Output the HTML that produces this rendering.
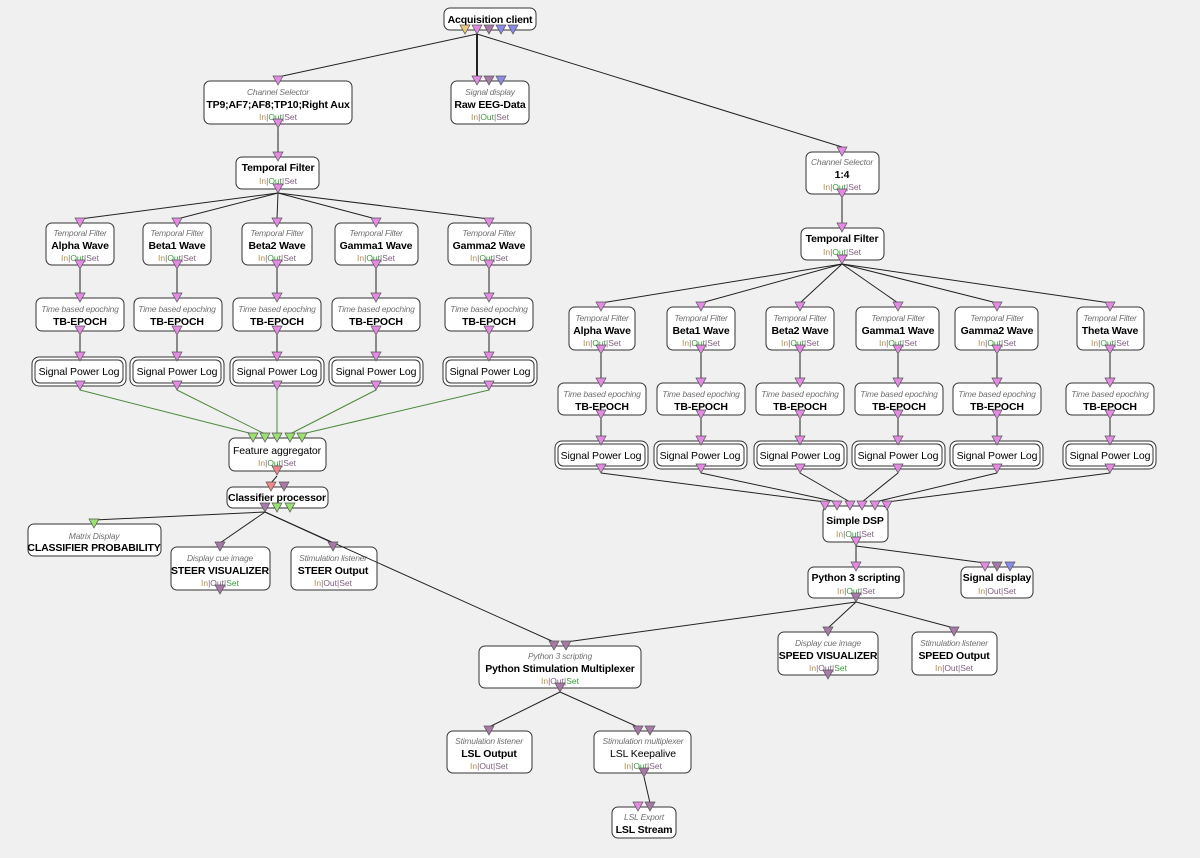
<!DOCTYPE html>
<html><head><meta charset="utf-8"><style>
html,body{margin:0;padding:0;background:#f0f0f0}
svg{display:block}
text{font-family:"Liberation Sans",Arial,sans-serif;text-anchor:middle}
.b{font-size:10.5px;font-weight:bold;fill:#000;letter-spacing:-0.15px}
.n{font-size:10.5px;fill:#000;letter-spacing:-0.1px}
.i{font-size:8.5px;font-style:italic;fill:#707070;letter-spacing:-0.2px}
.s{font-size:8.5px;fill:#806080}
.g{fill:#3a9a3a}
.o{fill:#b09050}
.bx{fill:#fff;stroke:#333;stroke-width:1}
.l{stroke:#222;stroke-width:1;fill:none}
.lg{stroke:#4a8a3a;stroke-width:1;fill:none}
.pk{fill:#e48ae4;stroke:#555;stroke-width:.7}
.pu{fill:#a878a8;stroke:#555;stroke-width:.7}
.bl{fill:#8a8ae8;stroke:#555;stroke-width:.7}
.ye{fill:#e8c878;stroke:#555;stroke-width:.7}
.gr{fill:#98e070;stroke:#555;stroke-width:.7}
.rd{fill:#f08888;stroke:#555;stroke-width:.7}
</style></head><body>
<svg width="1200" height="858" viewBox="0 0 1200 858" xmlns="http://www.w3.org/2000/svg">
<defs>
<path id="t" d="M-5,-5 L5,-5 L0,4 Z"/>
</defs>

<!-- ===== EDGES ===== -->
<g class="l">
<line x1="477" y1="34" x2="278" y2="77"/>
<line x1="477" y1="34" x2="477" y2="77" stroke-width="2"/>
<line x1="477" y1="34" x2="842" y2="147"/>
<line x1="278" y1="128" x2="278" y2="153"/>
<line x1="278" y1="193" x2="80" y2="219"/>
<line x1="278" y1="193" x2="177" y2="219"/>
<line x1="278" y1="193" x2="277" y2="219"/>
<line x1="278" y1="193" x2="376" y2="219"/>
<line x1="278" y1="193" x2="489" y2="219"/>
<line x1="80" y1="268" x2="80" y2="294"/><line x1="80" y1="335" x2="80" y2="353"/>
<line x1="177" y1="268" x2="177" y2="294"/><line x1="177" y1="335" x2="177" y2="353"/>
<line x1="277" y1="268" x2="277" y2="294"/><line x1="277" y1="335" x2="277" y2="353"/>
<line x1="376" y1="268" x2="376" y2="294"/><line x1="376" y1="335" x2="376" y2="353"/>
<line x1="489" y1="268" x2="489" y2="294"/><line x1="489" y1="335" x2="489" y2="353"/>
<line x1="277" y1="476" x2="271" y2="483"/>
<line x1="265" y1="512" x2="94" y2="520"/>
<line x1="265" y1="512" x2="220" y2="543"/>
<line x1="265" y1="512" x2="333" y2="543"/>
<line x1="842" y1="198" x2="842" y2="224"/>
<line x1="842" y1="264" x2="601" y2="303"/>
<line x1="842" y1="264" x2="701" y2="303"/>
<line x1="842" y1="264" x2="800" y2="303"/>
<line x1="842" y1="264" x2="898" y2="303"/>
<line x1="842" y1="264" x2="997" y2="303"/>
<line x1="842" y1="264" x2="1110" y2="303"/>
<line x1="601" y1="354" x2="601" y2="379"/><line x1="601" y1="419" x2="601" y2="437"/>
<line x1="701" y1="354" x2="701" y2="379"/><line x1="701" y1="419" x2="701" y2="437"/>
<line x1="800" y1="354" x2="800" y2="379"/><line x1="800" y1="419" x2="800" y2="437"/>
<line x1="898" y1="354" x2="898" y2="379"/><line x1="898" y1="419" x2="898" y2="437"/>
<line x1="997" y1="354" x2="997" y2="379"/><line x1="997" y1="419" x2="997" y2="437"/>
<line x1="1110" y1="354" x2="1110" y2="379"/><line x1="1110" y1="419" x2="1110" y2="437"/>
<line x1="601" y1="473" x2="825" y2="502"/>
<line x1="701" y1="473" x2="837" y2="502"/>
<line x1="800" y1="473" x2="850" y2="502"/>
<line x1="898" y1="473" x2="862" y2="502"/>
<line x1="997" y1="473" x2="875" y2="502"/>
<line x1="1110" y1="473" x2="887" y2="502"/>
<line x1="856" y1="546" x2="856" y2="563"/>
<line x1="856" y1="546" x2="985" y2="563"/>
<line x1="856" y1="602" x2="566" y2="642"/>
<line x1="856" y1="602" x2="828" y2="628"/>
<line x1="856" y1="602" x2="954" y2="628"/>
<line x1="560" y1="692" x2="489" y2="727"/>
<line x1="560" y1="692" x2="638" y2="727"/>
<line x1="644" y1="777" x2="650" y2="803"/>
</g>
<g class="lg">
<line x1="80" y1="390" x2="253" y2="434"/>
<line x1="177" y1="390" x2="265" y2="434"/>
<line x1="277" y1="390" x2="277" y2="434"/>
<line x1="376" y1="390" x2="290" y2="434"/>
<line x1="489" y1="390" x2="302" y2="434"/>
</g>

<!-- ===== NODES ===== -->
<rect class="bx" x="444" y="8" width="92" height="22" rx="6"/>
<text class="b" x="490" y="23">Acquisition client</text>

<rect class="bx" x="204" y="81" width="148" height="43" rx="6"/>
<text class="i" x="278" y="95">Channel Selector</text>
<text class="b" x="278" y="108">TP9;AF7;AF8;TP10;Right Aux</text>
<text class="s" x="278" y="120"><tspan class="o">In</tspan>|<tspan class="g">Out</tspan>|Set</text>

<rect class="bx" x="451" y="81" width="78" height="43" rx="6"/>
<text class="i" x="490" y="95">Signal display</text>
<text class="b" x="490" y="108">Raw EEG-Data</text>
<text class="s" x="490" y="120"><tspan class="o">In</tspan>|<tspan class="g">Out</tspan>|Set</text>

<rect class="bx" x="236" y="157" width="83" height="32" rx="6"/>
<text class="b" x="278" y="171">Temporal Filter</text>
<text class="s" x="278" y="184"><tspan class="o">In</tspan>|<tspan class="g">Out</tspan>|Set</text>

<rect class="bx" x="46" y="223" width="68" height="42" rx="6"/>
<text class="i" x="80" y="236">Temporal Filter</text><text class="b" x="80" y="249">Alpha Wave</text>
<text class="s" x="80" y="261"><tspan class="o">In</tspan>|<tspan class="g">Out</tspan>|Set</text>
<rect class="bx" x="143" y="223" width="68" height="42" rx="6"/>
<text class="i" x="177" y="236">Temporal Filter</text><text class="b" x="177" y="249">Beta1 Wave</text>
<text class="s" x="177" y="261"><tspan class="o">In</tspan>|<tspan class="g">Out</tspan>|Set</text>
<rect class="bx" x="242" y="223" width="70" height="42" rx="6"/>
<text class="i" x="277" y="236">Temporal Filter</text><text class="b" x="277" y="249">Beta2 Wave</text>
<text class="s" x="277" y="261"><tspan class="o">In</tspan>|<tspan class="g">Out</tspan>|Set</text>
<rect class="bx" x="335" y="223" width="83" height="42" rx="6"/>
<text class="i" x="376" y="236">Temporal Filter</text><text class="b" x="376" y="249">Gamma1 Wave</text>
<text class="s" x="376" y="261"><tspan class="o">In</tspan>|<tspan class="g">Out</tspan>|Set</text>
<rect class="bx" x="448" y="223" width="83" height="42" rx="6"/>
<text class="i" x="489" y="236">Temporal Filter</text><text class="b" x="489" y="249">Gamma2 Wave</text>
<text class="s" x="489" y="261"><tspan class="o">In</tspan>|<tspan class="g">Out</tspan>|Set</text>

<g>
<rect class="bx" x="36" y="298" width="88" height="33" rx="6"/>
<text class="i" x="80" y="312">Time based epoching</text><text class="b" x="80" y="325">TB-EPOCH</text>
<rect class="bx" x="134" y="298" width="88" height="33" rx="6"/>
<text class="i" x="177" y="312">Time based epoching</text><text class="b" x="177" y="325">TB-EPOCH</text>
<rect class="bx" x="233" y="298" width="88" height="33" rx="6"/>
<text class="i" x="277" y="312">Time based epoching</text><text class="b" x="277" y="325">TB-EPOCH</text>
<rect class="bx" x="332" y="298" width="88" height="33" rx="6"/>
<text class="i" x="376" y="312">Time based epoching</text><text class="b" x="376" y="325">TB-EPOCH</text>
<rect class="bx" x="445" y="298" width="88" height="33" rx="6"/>
<text class="i" x="489" y="312">Time based epoching</text><text class="b" x="489" y="325">TB-EPOCH</text>
</g>

<g>
<rect class="bx" x="32" y="357" width="94" height="29" rx="7"/><rect class="bx" x="35" y="360" width="88" height="23" rx="5"/>
<text class="n" x="79" y="375">Signal Power Log</text>
<rect class="bx" x="130" y="357" width="94" height="29" rx="7"/><rect class="bx" x="133" y="360" width="88" height="23" rx="5"/>
<text class="n" x="177" y="375">Signal Power Log</text>
<rect class="bx" x="230" y="357" width="94" height="29" rx="7"/><rect class="bx" x="233" y="360" width="88" height="23" rx="5"/>
<text class="n" x="277" y="375">Signal Power Log</text>
<rect class="bx" x="329" y="357" width="94" height="29" rx="7"/><rect class="bx" x="332" y="360" width="88" height="23" rx="5"/>
<text class="n" x="376" y="375">Signal Power Log</text>
<rect class="bx" x="443" y="357" width="94" height="29" rx="7"/><rect class="bx" x="446" y="360" width="88" height="23" rx="5"/>
<text class="n" x="490" y="375">Signal Power Log</text>
</g>

<rect class="bx" x="229" y="438" width="97" height="33" rx="6"/>
<text class="n" x="277" y="454">Feature aggregator</text>
<text class="s" x="277" y="466"><tspan class="o">In</tspan>|<tspan class="g">Out</tspan>|Set</text>

<rect class="bx" x="227" y="487" width="101" height="21" rx="6"/>
<text class="b" x="277" y="501">Classifier processor</text>

<rect class="bx" x="28" y="524" width="133" height="32" rx="6"/>
<text class="i" x="94" y="539">Matrix Display</text>
<text class="b" x="94" y="551">CLASSIFIER PROBABILITY</text>

<rect class="bx" x="171" y="547" width="99" height="43" rx="6"/>
<text class="i" x="220" y="561">Display cue image</text>
<text class="b" x="220" y="574">STEER VISUALIZER</text>
<text class="s" x="220" y="586"><tspan class="o">In</tspan>|Out|<tspan class="g">Set</tspan></text>

<rect class="bx" x="291" y="547" width="86" height="43" rx="6"/>
<text class="i" x="333" y="561">Stimulation listener</text>
<text class="b" x="333" y="574">STEER Output</text>
<text class="s" x="333" y="586"><tspan class="o">In</tspan>|Out|Set</text>

<!-- overlay line CP -> PSM crossing STEER Output -->
<line class="l" x1="265" y1="512" x2="554" y2="642"/>

<rect class="bx" x="806" y="152" width="73" height="42" rx="6"/>
<text class="i" x="842" y="165">Channel Selector</text>
<text class="b" x="842" y="178">1:4</text>
<text class="s" x="842" y="190"><tspan class="o">In</tspan>|<tspan class="g">Out</tspan>|Set</text>

<rect class="bx" x="801" y="228" width="83" height="32" rx="6"/>
<text class="b" x="842" y="242">Temporal Filter</text>
<text class="s" x="842" y="255"><tspan class="o">In</tspan>|<tspan class="g">Out</tspan>|Set</text>

<rect class="bx" x="569" y="307" width="66" height="43" rx="6"/>
<text class="i" x="602" y="321">Temporal Filter</text><text class="b" x="602" y="334">Alpha Wave</text>
<text class="s" x="602" y="346"><tspan class="o">In</tspan>|<tspan class="g">Out</tspan>|Set</text>
<rect class="bx" x="667" y="307" width="68" height="43" rx="6"/>
<text class="i" x="701" y="321">Temporal Filter</text><text class="b" x="701" y="334">Beta1 Wave</text>
<text class="s" x="701" y="346"><tspan class="o">In</tspan>|<tspan class="g">Out</tspan>|Set</text>
<rect class="bx" x="766" y="307" width="68" height="43" rx="6"/>
<text class="i" x="800" y="321">Temporal Filter</text><text class="b" x="800" y="334">Beta2 Wave</text>
<text class="s" x="800" y="346"><tspan class="o">In</tspan>|<tspan class="g">Out</tspan>|Set</text>
<rect class="bx" x="856" y="307" width="83" height="43" rx="6"/>
<text class="i" x="898" y="321">Temporal Filter</text><text class="b" x="898" y="334">Gamma1 Wave</text>
<text class="s" x="898" y="346"><tspan class="o">In</tspan>|<tspan class="g">Out</tspan>|Set</text>
<rect class="bx" x="955" y="307" width="83" height="43" rx="6"/>
<text class="i" x="997" y="321">Temporal Filter</text><text class="b" x="997" y="334">Gamma2 Wave</text>
<text class="s" x="997" y="346"><tspan class="o">In</tspan>|<tspan class="g">Out</tspan>|Set</text>
<rect class="bx" x="1077" y="307" width="67" height="43" rx="6"/>
<text class="i" x="1110" y="321">Temporal Filter</text><text class="b" x="1110" y="334">Theta Wave</text>
<text class="s" x="1110" y="346"><tspan class="o">In</tspan>|<tspan class="g">Out</tspan>|Set</text>

<rect class="bx" x="558" y="383" width="88" height="32" rx="6"/>
<text class="i" x="602" y="397">Time based epoching</text><text class="b" x="602" y="410">TB-EPOCH</text>
<rect class="bx" x="657" y="383" width="88" height="32" rx="6"/>
<text class="i" x="701" y="397">Time based epoching</text><text class="b" x="701" y="410">TB-EPOCH</text>
<rect class="bx" x="756" y="383" width="88" height="32" rx="6"/>
<text class="i" x="800" y="397">Time based epoching</text><text class="b" x="800" y="410">TB-EPOCH</text>
<rect class="bx" x="855" y="383" width="88" height="32" rx="6"/>
<text class="i" x="899" y="397">Time based epoching</text><text class="b" x="899" y="410">TB-EPOCH</text>
<rect class="bx" x="953" y="383" width="88" height="32" rx="6"/>
<text class="i" x="997" y="397">Time based epoching</text><text class="b" x="997" y="410">TB-EPOCH</text>
<rect class="bx" x="1066" y="383" width="88" height="32" rx="6"/>
<text class="i" x="1110" y="397">Time based epoching</text><text class="b" x="1110" y="410">TB-EPOCH</text>

<rect class="bx" x="555" y="441" width="93" height="28" rx="7"/><rect class="bx" x="558" y="444" width="87" height="22" rx="5"/>
<text class="n" x="601" y="459">Signal Power Log</text>
<rect class="bx" x="654" y="441" width="93" height="28" rx="7"/><rect class="bx" x="657" y="444" width="87" height="22" rx="5"/>
<text class="n" x="700" y="459">Signal Power Log</text>
<rect class="bx" x="754" y="441" width="93" height="28" rx="7"/><rect class="bx" x="757" y="444" width="87" height="22" rx="5"/>
<text class="n" x="800" y="459">Signal Power Log</text>
<rect class="bx" x="852" y="441" width="93" height="28" rx="7"/><rect class="bx" x="855" y="444" width="87" height="22" rx="5"/>
<text class="n" x="898" y="459">Signal Power Log</text>
<rect class="bx" x="950" y="441" width="93" height="28" rx="7"/><rect class="bx" x="953" y="444" width="87" height="22" rx="5"/>
<text class="n" x="997" y="459">Signal Power Log</text>
<rect class="bx" x="1063" y="441" width="93" height="28" rx="7"/><rect class="bx" x="1066" y="444" width="87" height="22" rx="5"/>
<text class="n" x="1110" y="459">Signal Power Log</text>

<rect class="bx" x="823" y="506" width="65" height="36" rx="6"/>
<text class="b" x="855" y="524">Simple DSP</text>
<text class="s" x="855" y="537"><tspan class="o">In</tspan>|<tspan class="g">Out</tspan>|Set</text>

<rect class="bx" x="808" y="567" width="96" height="31" rx="6"/>
<text class="b" x="856" y="581">Python 3 scripting</text>
<text class="s" x="856" y="594"><tspan class="o">In</tspan>|<tspan class="g">Out</tspan>|Set</text>

<rect class="bx" x="961" y="567" width="72" height="31" rx="6"/>
<text class="b" x="997" y="581">Signal display</text>
<text class="s" x="997" y="594"><tspan class="o">In</tspan>|Out|Set</text>

<rect class="bx" x="778" y="632" width="100" height="43" rx="6"/>
<text class="i" x="828" y="646">Display cue image</text>
<text class="b" x="828" y="659">SPEED VISUALIZER</text>
<text class="s" x="828" y="671"><tspan class="o">In</tspan>|Out|<tspan class="g">Set</tspan></text>

<rect class="bx" x="912" y="632" width="85" height="43" rx="6"/>
<text class="i" x="954" y="646">Stimulation listener</text>
<text class="b" x="954" y="659">SPEED Output</text>
<text class="s" x="954" y="671"><tspan class="o">In</tspan>|Out|Set</text>

<rect class="bx" x="479" y="646" width="162" height="42" rx="6"/>
<text class="i" x="560" y="659">Python 3 scripting</text>
<text class="b" x="560" y="672">Python Stimulation Multiplexer</text>
<text class="s" x="560" y="684"><tspan class="o">In</tspan>|Out|<tspan class="g">Set</tspan></text>

<rect class="bx" x="447" y="731" width="85" height="42" rx="6"/>
<text class="i" x="489" y="744">Stimulation listener</text>
<text class="b" x="489" y="757">LSL Output</text>
<text class="s" x="489" y="769"><tspan class="o">In</tspan>|Out|Set</text>

<rect class="bx" x="594" y="731" width="97" height="42" rx="6"/>
<text class="i" x="643" y="744">Stimulation multiplexer</text>
<text class="n" x="643" y="757">LSL Keepalive</text>
<text class="s" x="643" y="769"><tspan class="o">In</tspan>|<tspan class="g">Out</tspan>|Set</text>

<rect class="bx" x="612" y="807" width="64" height="31" rx="6"/>
<text class="i" x="644" y="820">LSL Export</text>
<text class="b" x="644" y="833">LSL Stream</text>

<!-- ===== PORTS ===== -->
<use href="#t" class="ye" x="465" y="30"/><use href="#t" class="pk" x="477" y="30"/><use href="#t" class="pu" x="489" y="30"/><use href="#t" class="bl" x="501" y="30"/><use href="#t" class="bl" x="513" y="30"/>
<use href="#t" class="pk" x="278" y="81"/><use href="#t" class="pk" x="278" y="124"/>
<use href="#t" class="pk" x="477" y="81"/><use href="#t" class="pu" x="489" y="81"/><use href="#t" class="bl" x="501" y="81"/>
<use href="#t" class="pk" x="278" y="157"/><use href="#t" class="pk" x="278" y="189"/>
<g>
<use href="#t" class="pk" x="80" y="223"/><use href="#t" class="pk" x="80" y="265"/><use href="#t" class="pk" x="80" y="298"/><use href="#t" class="pk" x="80" y="331"/><use href="#t" class="pk" x="80" y="357"/><use href="#t" class="pk" x="80" y="386"/>
<use href="#t" class="pk" x="177" y="223"/><use href="#t" class="pk" x="177" y="265"/><use href="#t" class="pk" x="177" y="298"/><use href="#t" class="pk" x="177" y="331"/><use href="#t" class="pk" x="177" y="357"/><use href="#t" class="pk" x="177" y="386"/>
<use href="#t" class="pk" x="277" y="223"/><use href="#t" class="pk" x="277" y="265"/><use href="#t" class="pk" x="277" y="298"/><use href="#t" class="pk" x="277" y="331"/><use href="#t" class="pk" x="277" y="357"/><use href="#t" class="pk" x="277" y="386"/>
<use href="#t" class="pk" x="376" y="223"/><use href="#t" class="pk" x="376" y="265"/><use href="#t" class="pk" x="376" y="298"/><use href="#t" class="pk" x="376" y="331"/><use href="#t" class="pk" x="376" y="357"/><use href="#t" class="pk" x="376" y="386"/>
<use href="#t" class="pk" x="489" y="223"/><use href="#t" class="pk" x="489" y="265"/><use href="#t" class="pk" x="489" y="298"/><use href="#t" class="pk" x="489" y="331"/><use href="#t" class="pk" x="489" y="357"/><use href="#t" class="pk" x="489" y="386"/>
</g>
<use href="#t" class="gr" x="253" y="438"/><use href="#t" class="gr" x="265" y="438"/><use href="#t" class="gr" x="277" y="438"/><use href="#t" class="gr" x="290" y="438"/><use href="#t" class="gr" x="302" y="438"/>
<use href="#t" class="rd" x="277" y="471"/>
<use href="#t" class="rd" x="271" y="487"/><use href="#t" class="pu" x="284" y="487"/>
<use href="#t" class="pu" x="265" y="508"/><use href="#t" class="gr" x="277" y="508"/><use href="#t" class="gr" x="290" y="508"/>
<use href="#t" class="gr" x="94" y="524"/>
<use href="#t" class="pu" x="220" y="547"/><use href="#t" class="pu" x="220" y="590"/>
<use href="#t" class="pu" x="333" y="547"/>
<use href="#t" class="pk" x="842" y="152"/><use href="#t" class="pk" x="842" y="194"/>
<use href="#t" class="pk" x="842" y="228"/><use href="#t" class="pk" x="842" y="260"/>
<g>
<use href="#t" class="pk" x="601" y="307"/><use href="#t" class="pk" x="601" y="350"/><use href="#t" class="pk" x="601" y="383"/><use href="#t" class="pk" x="601" y="415"/><use href="#t" class="pk" x="601" y="441"/><use href="#t" class="pk" x="601" y="469"/>
<use href="#t" class="pk" x="701" y="307"/><use href="#t" class="pk" x="701" y="350"/><use href="#t" class="pk" x="701" y="383"/><use href="#t" class="pk" x="701" y="415"/><use href="#t" class="pk" x="701" y="441"/><use href="#t" class="pk" x="701" y="469"/>
<use href="#t" class="pk" x="800" y="307"/><use href="#t" class="pk" x="800" y="350"/><use href="#t" class="pk" x="800" y="383"/><use href="#t" class="pk" x="800" y="415"/><use href="#t" class="pk" x="800" y="441"/><use href="#t" class="pk" x="800" y="469"/>
<use href="#t" class="pk" x="898" y="307"/><use href="#t" class="pk" x="898" y="350"/><use href="#t" class="pk" x="898" y="383"/><use href="#t" class="pk" x="898" y="415"/><use href="#t" class="pk" x="898" y="441"/><use href="#t" class="pk" x="898" y="469"/>
<use href="#t" class="pk" x="997" y="307"/><use href="#t" class="pk" x="997" y="350"/><use href="#t" class="pk" x="997" y="383"/><use href="#t" class="pk" x="997" y="415"/><use href="#t" class="pk" x="997" y="441"/><use href="#t" class="pk" x="997" y="469"/>
<use href="#t" class="pk" x="1110" y="307"/><use href="#t" class="pk" x="1110" y="350"/><use href="#t" class="pk" x="1110" y="383"/><use href="#t" class="pk" x="1110" y="415"/><use href="#t" class="pk" x="1110" y="441"/><use href="#t" class="pk" x="1110" y="469"/>
</g>
<use href="#t" class="pk" x="825" y="506"/><use href="#t" class="pk" x="837" y="506"/><use href="#t" class="pk" x="850" y="506"/><use href="#t" class="pk" x="862" y="506"/><use href="#t" class="pk" x="875" y="506"/><use href="#t" class="pk" x="887" y="506"/>
<use href="#t" class="pk" x="856" y="542"/>
<use href="#t" class="pk" x="856" y="567"/><use href="#t" class="pu" x="856" y="598"/>
<use href="#t" class="pk" x="985" y="567"/><use href="#t" class="pu" x="997" y="567"/><use href="#t" class="bl" x="1010" y="567"/>
<use href="#t" class="pu" x="828" y="632"/><use href="#t" class="pu" x="828" y="675"/>
<use href="#t" class="pu" x="954" y="632"/>
<use href="#t" class="pu" x="554" y="646"/><use href="#t" class="pu" x="566" y="646"/><use href="#t" class="pu" x="560" y="688"/>
<use href="#t" class="pu" x="489" y="731"/>
<use href="#t" class="pu" x="638" y="731"/><use href="#t" class="pu" x="650" y="731"/><use href="#t" class="pu" x="644" y="773"/>
<use href="#t" class="pk" x="638" y="807"/><use href="#t" class="pu" x="650" y="807"/>
</svg>
</body></html>
